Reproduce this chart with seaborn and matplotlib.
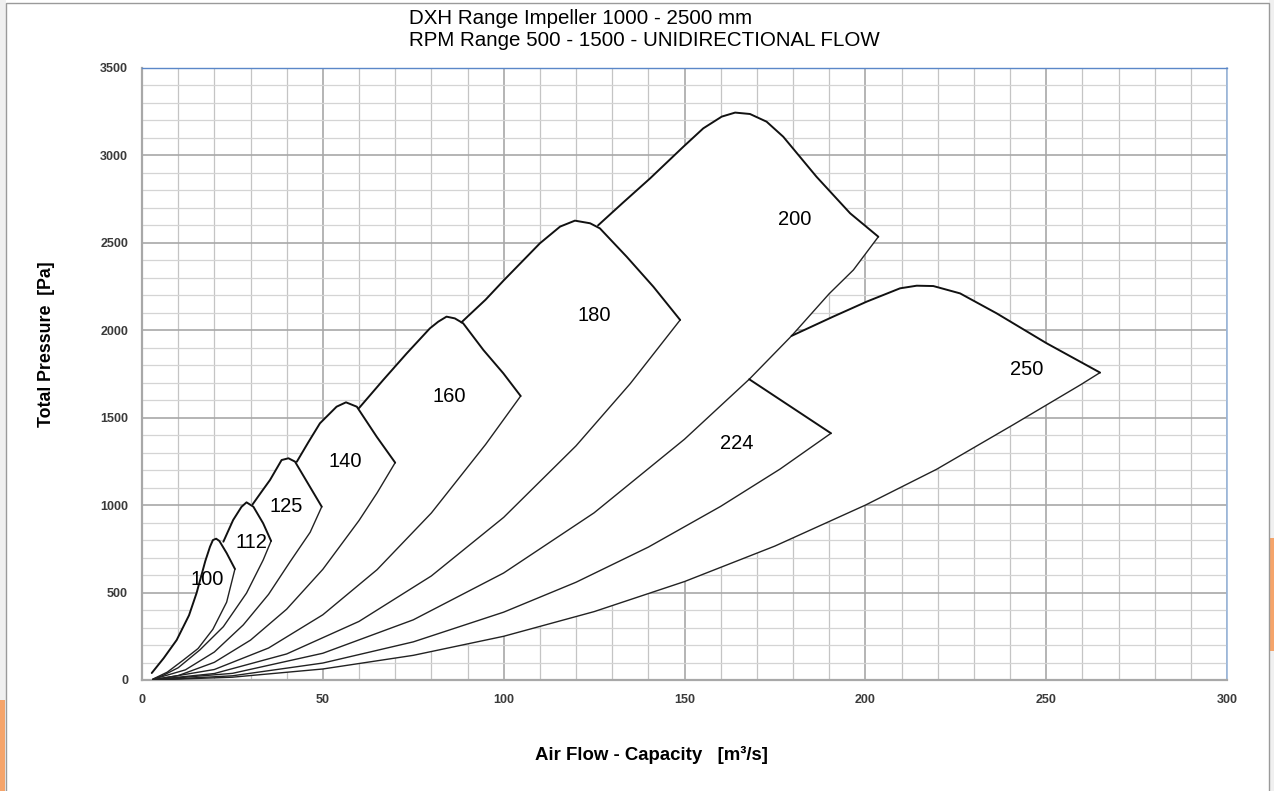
import matplotlib
matplotlib.use("Agg")
import matplotlib.pyplot as plt
from matplotlib.patches import Rectangle
import numpy as np
import pandas as pd
import seaborn as sns

# ---------------- data ----------------
sizes = [100, 112, 125, 140, 160, 180, 200, 224, 250]

up100_x = [2.7, 6.0, 9.6, 13.0, 15.1, 17.5, 18.8, 19.6, 20.5, 21.4, 23.4, 25.7]
up100_y = [40, 125, 229, 370, 498, 680, 762, 800, 808, 795, 726, 635]
lo100_x = [25.7, 23.4, 19.6, 15.5, 11.3, 7.0, 3.0]
lo100_y = [635, 445, 290, 180, 112, 45, 5]

up112_x = [22.5, 25.2, 27.5, 28.9, 30.8, 33.5, 35.7]
up112_y = [791, 915, 990, 1016, 991, 896, 795]
lo112_x = [35.7, 33.5, 28.9, 22.5, 16.0, 10.0, 6.0, 3.0]
lo112_y = [795, 686, 497, 305, 172, 70, 28, 4]

up125_x = [30.6, 33.0, 35.4, 38.6, 40.5, 42.3, 46.0, 49.7]
up125_y = [1005, 1075, 1144, 1258, 1268, 1249, 1120, 991]
lo125_x = [49.7, 46.5, 40.9, 35.0, 28.0, 20.0, 12.0, 3.0]
lo125_y = [991, 845, 675, 490, 315, 160, 58, 4]

up140_x = [42.8, 46.0, 49.2, 53.8, 56.4, 59.4, 64.9, 70.0]
up140_y = [1248, 1360, 1468, 1563, 1588, 1563, 1391, 1243]
lo140_x = [70.0, 65.0, 60.0, 50.0, 40.0, 30.0, 20.0, 10.0, 3.0]
lo140_y = [1243, 1070, 912, 633, 405, 228, 101, 25, 2]

up160_x = [60.0, 66.7, 73.2, 79.6, 81.9, 84.2, 86.5, 88.8, 94.4, 99.9, 104.7]
up160_y = [1555, 1716, 1868, 2011, 2049, 2078, 2068, 2040, 1887, 1754, 1624]
lo160_x = [104.7, 95.0, 80.0, 65.0, 50.0, 35.0, 20.0, 3.0]
lo160_y = [1624, 1347, 955, 631, 373, 183, 60, 1]

up180_x = [88.3, 95.0, 100.0, 110.0, 115.6, 119.7, 123.9, 126.6, 134.0, 141.4, 148.8]
up180_y = [2045, 2175, 2285, 2497, 2593, 2627, 2612, 2583, 2421, 2249, 2059]
lo180_x = [148.8, 135.0, 120.0, 100.0, 80.0, 60.0, 40.0, 20.0, 3.0]
lo180_y = [2059, 1695, 1339, 930, 595, 335, 149, 37, 1]

up200_x = [126.1, 133.0, 140.5, 149.7, 155.2, 160.3, 164.0, 168.1, 172.7, 177.3, 186.5, 195.8, 203.6]
up200_y = [2600, 2730, 2869, 3050, 3155, 3222, 3245, 3237, 3193, 3107, 2878, 2669, 2535]
lo200_x = [203.6, 196.7, 190.0, 179.6, 167.9, 150.0, 125.0, 100.0, 75.0, 50.0, 25.0, 3.0]
lo200_y = [2535, 2345, 2209, 1968, 1720, 1377, 956, 612, 344, 153, 38, 1]

up224_x = [167.9, 190.5]
up224_y = [1720, 1411]
lo224_x = [190.5, 176.4, 160.0, 140.0, 120.0, 100.0, 75.0, 50.0, 25.0, 3.0]
lo224_y = [1411, 1206, 993, 760, 559, 388, 218, 97, 24, 0]

up250_x = [179.6, 191.1, 200.4, 209.6, 214.2, 218.8, 226.2, 236.3, 250.1, 264.9]
up250_y = [1968, 2078, 2164, 2240, 2255, 2253, 2211, 2097, 1926, 1758]
lo250_x = [264.9, 259.4, 240.9, 219.7, 200.0, 175.0, 150.0, 125.0, 100.0, 75.0, 50.0, 25.0, 3.0]
lo250_y = [1758, 1687, 1460, 1205, 1000, 766, 563, 391, 250, 141, 63, 16, 0]

label_x = [18.0, 30.3, 39.8, 56.1, 84.9, 125.0, 180.5, 164.5, 244.7]
label_y = [572, 784, 995, 1247, 1624, 2082, 2631, 1355, 1773]

x_ticks = [0, 50, 100, 150, 200, 250, 300]
y_ticks = [0, 500, 1000, 1500, 2000, 2500, 3000, 3500]

title_lines = ["DXH Range Impeller 1000 - 2500 mm",
               "RPM Range 500 - 1500 - UNIDIRECTIONAL FLOW"]
x_label = "Air Flow - Capacity   [m³/s]"
y_label = "Total Pressure  [Pa]"

upper = {100: (up100_x, up100_y), 112: (up112_x, up112_y), 125: (up125_x, up125_y),
         140: (up140_x, up140_y), 160: (up160_x, up160_y), 180: (up180_x, up180_y),
         200: (up200_x, up200_y), 224: (up224_x, up224_y), 250: (up250_x, up250_y)}
lower = {100: (lo100_x, lo100_y), 112: (lo112_x, lo112_y), 125: (lo125_x, lo125_y),
         140: (lo140_x, lo140_y), 160: (lo160_x, lo160_y), 180: (lo180_x, lo180_y),
         200: (lo200_x, lo200_y), 224: (lo224_x, lo224_y), 250: (lo250_x, lo250_y)}

# ---------------- style ----------------
sns.set_theme(style="white")
plt.rcParams["font.family"] = ["Liberation Sans", "DejaVu Sans"]

W, H = 1274, 791
fig = plt.figure(figsize=(W / 100, H / 100), dpi=100)
fig.patch.set_facecolor("white")
L, R, T, B = 142, 1227, 68, 680
ax = fig.add_axes([L / W, 1 - B / H, (R - L) / W, (B - T) / H])

ax.set_xlim(0, 300)
ax.set_ylim(0, 3500)
ax.set_xticks(x_ticks)
ax.set_yticks(y_ticks)
ax.set_xticks(np.arange(0, 301, 10), minor=True)
ax.set_yticks(np.arange(0, 3501, 100), minor=True)
ax.set_axisbelow(True)
ax.xaxis.grid(True, which="major", color="#a8a8a8", lw=1.2)
ax.yaxis.grid(True, which="major", color="#a8a8a8", lw=1.2)
ax.xaxis.grid(True, which="minor", color="#c4c4c4", lw=0.9)
ax.yaxis.grid(True, which="minor", color="#d4d4d4", lw=0.9)
ax.tick_params(which="minor", length=0)
ax.tick_params(which="major", length=5, width=1, color="#a8a8a8",
               labelsize=9, labelcolor="#3a3a3a", pad=5)
for lab in ax.get_xticklabels() + ax.get_yticklabels():
    lab.set_fontweight("bold")

for s in ["left", "bottom"]:
    ax.spines[s].set_color("#a8a8a8")
    ax.spines[s].set_linewidth(1.6)
ax.spines["top"].set_color("#5b87c8")
ax.spines["top"].set_linewidth(1.0)
ax.spines["right"].set_color("#9ab6dc")
ax.spines["right"].set_linewidth(1.2)

# ---------------- white fills ----------------
chain = [100, 112, 125, 140, 160, 180, 200]
env_x, env_y = [0.0], [0.0]
for i, s in enumerate(chain):
    ux, uy = upper[s]
    limit = upper[chain[i + 1]][0][0] if i + 1 < len(chain) else np.inf
    for xx, yy in zip(ux, uy):
        if xx < limit:
            env_x.append(xx)
            env_y.append(yy)
env_x += list(lower[200][0])
env_y += list(lower[200][1])
ax.fill(env_x, env_y, color="white", zorder=2, lw=0)

lx, ly = lower[200]
start_x = upper[250][0][0]
part = [(xx, yy) for xx, yy in zip(lx, ly) if xx <= start_x][::-1]
fx = [0.0] + [p[0] for p in part] + list(upper[250][0]) + list(lower[250][0])
fy = [0.0] + [p[1] for p in part] + list(upper[250][1]) + list(lower[250][1])
ax.fill(fx, fy, color="white", zorder=2, lw=0)

# ---------------- outlines ----------------
for s in sizes:
    ux, uy = upper[s]
    lxs, lys = lower[s]
    sns.lineplot(x=ux, y=uy, sort=False, estimator=None, color="#111111",
                 lw=1.4, ax=ax, zorder=4)
    sns.lineplot(x=lxs, y=lys, sort=False, estimator=None, color="#222222",
                 lw=1.0, ax=ax, zorder=3)

for s, tx, ty in zip(sizes, label_x, label_y):
    ax.text(tx, ty, str(s), ha="center", va="center", fontsize=14.5,
            color="black", zorder=5)

ax.set_xlabel("")
ax.set_ylabel("")

# ---------------- texts ----------------
fig.text(409 / W, 1 - 18 / H, title_lines[0], ha="left", va="center",
         fontsize=14.8, color="black")
fig.text(409 / W, 1 - 41 / H, title_lines[1], ha="left", va="center",
         fontsize=14.8, color="black")
fig.text(651 / W, 1 - 755 / H, x_label, ha="center", va="center",
         fontsize=13.4, fontweight="bold", color="black")
fig.text(47 / W, 1 - 344 / H, y_label, ha="center", va="center",
         rotation=90, fontsize=12.8, fontweight="bold", color="black")

# ---------------- screenshot frame ----------------
fig.patches.append(Rectangle((0, 0), 6 / W, 1, transform=fig.transFigure,
                             facecolor="#f0f0f0", edgecolor="none", zorder=0))
fig.patches.append(Rectangle((0, 0), 5 / W, 91 / H, transform=fig.transFigure,
                             facecolor="#f5a46a", edgecolor="none", zorder=1))
fig.patches.append(Rectangle((1269 / W, 0), 5 / W, 1, transform=fig.transFigure,
                             facecolor="#f0f0f0", edgecolor="none", zorder=0))
fig.patches.append(Rectangle((1270 / W, 1 - 651 / H), 4 / W, 113 / H,
                             transform=fig.transFigure, facecolor="#f5a46a",
                             edgecolor="none", zorder=1))
fig.patches.append(Rectangle((6 / W, -0.01), 1263 / W, 1 - 3 / H + 0.01,
                             transform=fig.transFigure, facecolor="none",
                             edgecolor="#9a9a9a", lw=1.0, zorder=2))

fig.savefig("out.png", dpi=100, facecolor="white")
